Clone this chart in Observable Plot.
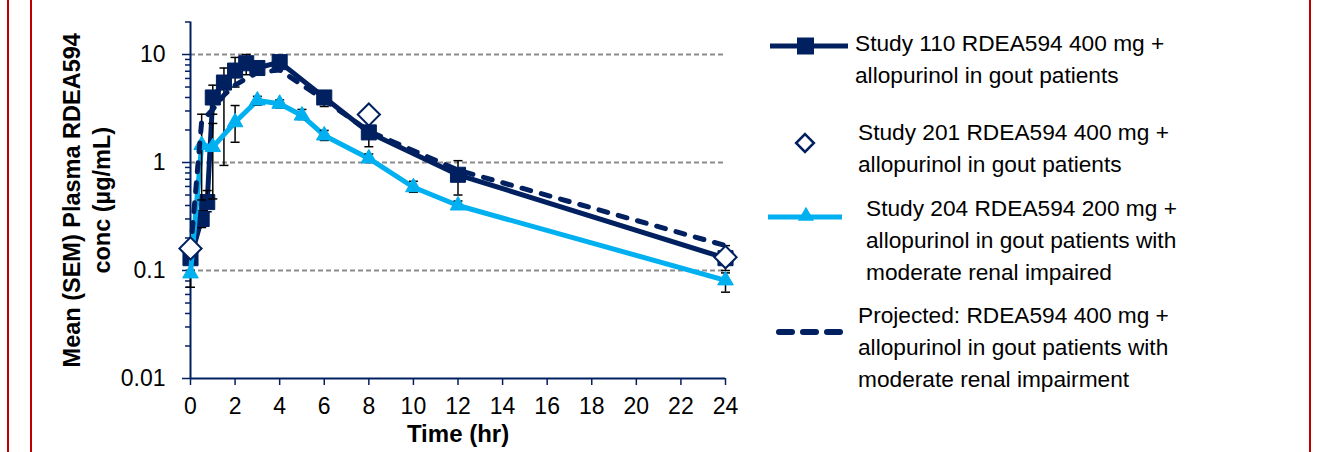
<!DOCTYPE html>
<html>
<head>
<meta charset="utf-8">
<script src="https://cdn.jsdelivr.net/npm/d3@7"></script>
<script src="https://cdn.jsdelivr.net/npm/@observablehq/plot@0.6"></script>
<style>
html,body{margin:0;padding:0;background:#fff;}
#wrap{position:relative;width:1322px;height:452px;overflow:hidden;font-family:"Liberation Sans",Arial,sans-serif;}
#wrap svg{position:absolute;left:0;top:0;}
.vline{position:absolute;top:0;height:452px;width:2px;background:#C00000;}
.entry{position:absolute;font-size:22.7px;line-height:32px;color:#000;white-space:nowrap;}
.sym{position:absolute;left:0;top:0;overflow:visible;}
</style>
</head>
<body>
<div id="wrap"></div>
<script>
const navy = "#002060";
const lightBlue = "#00B0F0";

// Study 110 RDEA594 400 mg (squares, solid)
const study110Time = [0, 0.5, 0.75, 1, 1.5, 2, 2.5, 3, 4, 6, 8, 12, 24];
const study110Conc = [0.13, 0.3, 0.43, 4.0, 5.5, 7.1, 8.3, 7.5, 8.5, 4.0, 1.9, 0.77, 0.13];
const study110Lo   = [0.1, 0.25, 0.35, 2.8, 0.94, 5.0, 6.5, 6.8, 7.6, 3.3, 1.4, 0.5, 0.1];
const study110Hi   = [0.16, 0.36, 0.55, 5.2, 7.5, 9.4, 10, 8.3, 9.5, 4.6, 2.4, 1.04, 0.17];

// Study 201 (open diamonds)
const study201Time = [0, 8, 24];
const study201Conc = [0.16, 2.78, 0.133];

// Study 204 RDEA594 200 mg (triangles, light blue)
const study204Time = [0, 0.5, 1, 2, 3, 4, 5, 6, 8, 10, 12, 24];
const study204Conc = [0.094, 1.45, 1.39, 2.36, 3.75, 3.5, 2.72, 1.78, 1.09, 0.59, 0.4, 0.081];
const study204Lo   = [0.07, 0.45, 0.46, 1.54, 3.4, 3.2, 2.5, 1.6, 1.0, 0.53, 0.37, 0.063];
const study204Hi   = [0.1, 2.8, 2.3, 3.37, 4.1, 3.8, 3.1, 1.98, 1.2, 0.67, 0.44, 0.095];

// Projected (dashed)
const projTime = [0, 0.25, 0.5, 1, 1.5, 2, 2.5, 3, 4, 6, 8, 12, 24];
const projConc = [0.15, 0.6, 2.4, 3.1, 4.2, 5.2, 6.0, 6.8, 7.2, 3.8, 1.95, 0.85, 0.17];

// Axes
const xTicks = [0, 2, 4, 6, 8, 10, 12, 14, 16, 18, 20, 22, 24];
const yMajor = [0.01, 0.1, 1, 10];
const yMinor = [0.02, 0.03, 0.04, 0.05, 0.06, 0.07, 0.08, 0.09,
                0.2, 0.3, 0.4, 0.5, 0.6, 0.7, 0.8, 0.9,
                2, 3, 4, 5, 6, 7, 8, 9, 20];
const gridVals = [0.1, 1, 10];
const yTitle = "Mean (SEM) Plasma RDEA594\nconc (µg/mL)";
const xTitle = "Time (hr)";

const legendLabels = [
  ["Study 110 RDEA594 400 mg +", "allopurinol in gout patients"],
  ["Study 201 RDEA594 400 mg +", "allopurinol in gout patients"],
  ["Study 204 RDEA594 200 mg +", "allopurinol in gout patients with", "moderate renal impaired"],
  ["Projected: RDEA594 400 mg +", "allopurinol in gout patients with", "moderate renal impairment"]
];

const s110 = study110Time.map((t, i) => ({t, c: study110Conc[i], lo: study110Lo[i], hi: study110Hi[i]}));
const s201 = study201Time.map((t, i) => ({t, c: study201Conc[i]}));
const s204 = study204Time.map((t, i) => ({t, c: study204Conc[i], lo: study204Lo[i], hi: study204Hi[i]}));
const sProj = projTime.map((t, i) => ({t, c: projConc[i]}));

const cap = {draw(ctx) { ctx.moveTo(-4.5, 0); ctx.lineTo(4.5, 0); }};

const font = '"Liberation Sans", Arial, sans-serif';

const plot = Plot.plot({
  width: 1322, height: 452,
  marginLeft: 190, marginRight: 597, marginTop: 21.5, marginBottom: 74,
  style: {fontFamily: font, background: "transparent", overflow: "visible"},
  x: {domain: [0, 24]},
  y: {type: "log", domain: [0.01, 20]},
  marks: [
    Plot.ruleY(gridVals, {x1: 0, x2: 24, stroke: "#8c8c8c", strokeWidth: 2, strokeDasharray: "5,3"}),
    Plot.axisY(yMinor, {tickSize: 5, tickFormat: () => "", stroke: navy, strokeWidth: 1.5, label: null}),
    Plot.axisY(yMajor, {tickSize: 8, tickPadding: 17, tickFormat: d => String(d), stroke: navy, fill: "black", fontSize: 23, strokeWidth: 1.5, label: null}),
    Plot.axisX(xTicks, {tickSize: 7, tickPadding: 12, tickFormat: d => String(d), stroke: navy, fill: "black", fontSize: 23, strokeWidth: 1.5, label: null}),
    Plot.ruleX([0], {y1: 0.01, y2: 20, stroke: navy, strokeWidth: 2}),
    Plot.ruleY([0.01], {x1: 0, x2: 24, stroke: navy, strokeWidth: 2}),
    Plot.text([yTitle], {frameAnchor: "left", textAnchor: "middle", dx: -105, rotate: -90, fontWeight: "bold", fontSize: 23.5, lineHeight: 1.28, fill: "black"}),
    Plot.text([xTitle], {frameAnchor: "bottom", textAnchor: "middle", dy: 63, fontWeight: "bold", fontSize: 24, fill: "black"}),
    // Study 110
    Plot.line(s110, {x: "t", y: "c", stroke: navy, strokeWidth: 5}),
    Plot.ruleX(s110, {x: "t", y1: "lo", y2: "hi", stroke: "black", strokeWidth: 1.5}),
    Plot.dot(s110, {x: "t", y: "lo", symbol: cap, stroke: "black", fill: "none", strokeWidth: 1.5}),
    Plot.dot(s110, {x: "t", y: "hi", symbol: cap, stroke: "black", fill: "none", strokeWidth: 1.5}),
    Plot.dot(s110, {x: "t", y: "c", symbol: "square", r: 8.5, fill: navy, stroke: navy, strokeWidth: 1}),
    // Study 204
    Plot.line(s204, {x: "t", y: "c", stroke: lightBlue, strokeWidth: 5}),
    Plot.ruleX(s204, {x: "t", y1: "lo", y2: "hi", stroke: "black", strokeWidth: 1.5}),
    Plot.dot(s204, {x: "t", y: "lo", symbol: cap, stroke: "black", fill: "none", strokeWidth: 1.5}),
    Plot.dot(s204, {x: "t", y: "hi", symbol: cap, stroke: "black", fill: "none", strokeWidth: 1.5}),
    Plot.dot(s204, {x: "t", y: "c", symbol: "triangle", r: 5.8, fill: lightBlue, stroke: lightBlue, strokeWidth: 1}),
    // Projected
    Plot.line(sProj, {x: "t", y: "c", stroke: navy, strokeWidth: 5, strokeDasharray: "9,11", strokeLinecap: "round"}),
    // Study 201
    Plot.dot(s201, {x: "t", y: "c", symbol: "diamond2", r: 10, fill: "white", stroke: navy, strokeWidth: 2})
  ]
});

const wrap = document.getElementById("wrap");
wrap.appendChild(plot);

// red frame lines
[7, 30, 1309].forEach(x => {
  const d = document.createElement("div");
  d.className = "vline";
  d.style.left = x + "px";
  wrap.appendChild(d);
});

// legend
const entryTops = [27, 116, 192, 299];
const entryLefts = [855, 858, 866, 858];
legendLabels.forEach((lines, i) => {
  const d = document.createElement("div");
  d.className = "entry";
  d.style.left = entryLefts[i] + "px";
  d.style.top = entryTops[i] + "px";
  d.innerHTML = lines.join("<br>");
  wrap.appendChild(d);
});

const sym = d3.select(wrap).append("svg").attr("class", "sym").attr("width", 1322).attr("height", 452);
// entry 1
sym.append("line").attr("x1", 770).attr("x2", 848).attr("y1", 46).attr("y2", 46).attr("stroke", navy).attr("stroke-width", 5);
sym.append("rect").attr("x", 797).attr("y", 37.5).attr("width", 17).attr("height", 17).attr("fill", navy);
// entry 2
sym.append("path").attr("d", d3.symbol(d3.symbolDiamond2, Math.PI * 64)()).attr("transform", "translate(805,143)")
  .attr("fill", "white").attr("stroke", navy).attr("stroke-width", 2.5);
// entry 3
sym.append("line").attr("x1", 768).attr("x2", 842).attr("y1", 217).attr("y2", 217).attr("stroke", lightBlue).attr("stroke-width", 5);
sym.append("path").attr("d", d3.symbol(d3.symbolTriangle, Math.PI * 6 * 6)()).attr("transform", "translate(806,216)").attr("fill", lightBlue);
// entry 4
sym.append("line").attr("x1", 779).attr("x2", 846).attr("y1", 332).attr("y2", 332).attr("stroke", navy).attr("stroke-width", 6)
  .attr("stroke-dasharray", "13,11").attr("stroke-linecap", "round");
</script>
</body>
</html>
